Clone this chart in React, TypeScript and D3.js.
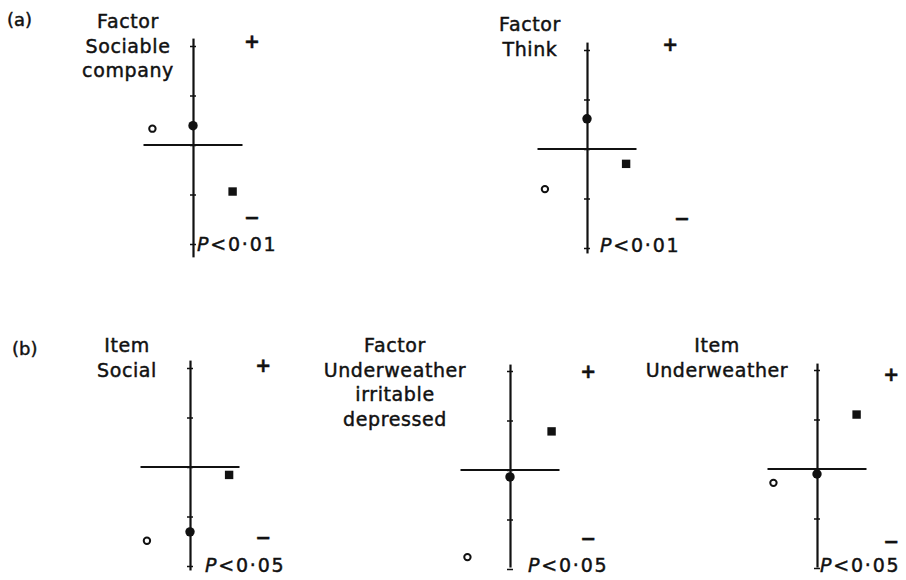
import { useEffect, useRef } from 'react';
import * as d3 from 'd3';

// values (vertical units = tick spacing)
const panelTitles = [
  ['Factor', 'Sociable', 'company'],
  ['Factor', 'Think'],
  ['Item', 'Social'],
  ['Factor', 'Underweather', 'irritable', 'depressed'],
  ['Item', 'Underweather'],
];
const pLabels = ['<0·01', '<0·01', '<0·05', '<0·05', '<0·05'];
const filledY = [0.39, 0.61, -1.31, -0.14, -0.1];
const openX = [-0.82, -0.85, -0.87, -0.86, -0.88];
const openY = [0.33, -0.81, -1.49, -1.76, -0.28];
const squareX = [0.8, 0.79, 0.79, 0.84, 0.8];
const squareY = [-0.94, -0.3, -0.16, 0.78, 1.1];
const tickValues = [-2, -1, 0, 1, 2];
const groupLabels = ['(a)', '(b)'];

// where each little panel sits on the page
const layout = [
  { ox: 193, oy: 145, yMin: -2.26, yMax: 2.16, titleX: 128, titleY: 28, plus: [1.19, 2.1], minus: [1.19, -1.45], pX: 197, pY: 251 },
  { ox: 587, oy: 149, yMin: -2.1, yMax: 2.16, titleX: 530, titleY: 31, plus: [1.68, 2.12], minus: [1.92, -1.4], pX: 600, pY: 252 },
  { ox: 190, oy: 467, yMin: -2.08, yMax: 2.16, titleX: 127, titleY: 352, plus: [1.48, 2.06], minus: [1.48, -1.42], pX: 205, pY: 572 },
  { ox: 510, oy: 470, yMin: -1.96, yMax: 2.14, titleX: 395, titleY: 352, plus: [1.58, 2.0], minus: [1.58, -1.38], pX: 528, pY: 572 },
  { ox: 817, oy: 469, yMin: -1.98, yMax: 2.14, titleX: 717, titleY: 352, plus: [1.5, 1.92], minus: [1.5, -1.46], pX: 820, pY: 572 },
];

const UNIT = 49.5;
const FONT = '"DejaVu Sans", sans-serif';
const INK = '#111';

const App = () => {
  const svgRef = useRef<SVGSVGElement>(null);

  useEffect(() => {
    const svg = d3.select(svgRef.current);
    svg.selectAll('*').remove();

    svg.append('rect').attr('width', 906).attr('height', 580).attr('fill', '#fff');

    const label = (sel: any, size = 19) => sel
      .attr('font-family', FONT).attr('font-size', size)
      .attr('fill', INK).attr('stroke', INK).attr('stroke-width', 0.45);

    // group labels
    label(svg.append('text').attr('x', 7).attr('y', 26), 18).text(groupLabels[0]);
    label(svg.append('text').attr('x', 12).attr('y', 355), 18).text(groupLabels[1]);

    layout.forEach((l, i) => {
      const x = d3.scaleLinear().domain([0, 1]).range([l.ox, l.ox + UNIT]);
      const y = d3.scaleLinear().domain([0, 1]).range([l.oy, l.oy - UNIT]);
      const g = svg.append('g');

      // vertical axis with little crossing ticks
      const yAxisScale = d3.scaleLinear().domain([l.yMin, l.yMax]).range([y(l.yMin), y(l.yMax)]);
      g.append('g')
        .attr('transform', `translate(${l.ox},0)`)
        .call(d3.axisLeft(yAxisScale).tickValues(tickValues).tickSize(3).tickSizeOuter(0).tickFormat(() => ''))
        .call(a => a.select('.domain').attr('stroke', INK).attr('stroke-width', 2.2))
        .call(a => a.selectAll('.tick line').attr('stroke', INK).attr('stroke-width', 1.5));
      g.append('g')
        .attr('transform', `translate(${l.ox},0)`)
        .call(d3.axisRight(yAxisScale).tickValues(tickValues).tickSize(3).tickSizeOuter(0).tickFormat(() => ''))
        .call(a => a.select('.domain').remove())
        .call(a => a.selectAll('.tick line').attr('stroke', INK).attr('stroke-width', 1.5));

      // horizontal zero line
      g.append('line')
        .attr('x1', x(-1)).attr('x2', x(1))
        .attr('y1', y(0)).attr('y2', y(0))
        .attr('stroke', INK).attr('stroke-width', 2);

      // markers
      g.append('circle')
        .attr('cx', x(openX[i])).attr('cy', y(openY[i])).attr('r', 3.2)
        .attr('fill', '#fff').attr('stroke', INK).attr('stroke-width', 2);
      g.append('circle')
        .attr('cx', x(0)).attr('cy', y(filledY[i])).attr('r', 4.7)
        .attr('fill', INK);
      g.append('rect')
        .attr('x', x(squareX[i]) - 4.2).attr('y', y(squareY[i]) - 4.2)
        .attr('width', 8.4).attr('height', 8.4)
        .attr('fill', INK);

      // + / − signs
      label(g.append('text').attr('x', x(l.plus[0])).attr('y', y(l.plus[1]) + 7)
        .attr('text-anchor', 'middle').attr('font-weight', 'bold')).text('+');
      label(g.append('text').attr('x', x(l.minus[0])).attr('y', y(l.minus[1]) + 7)
        .attr('text-anchor', 'middle').attr('font-weight', 'bold')).text('−');

      // P value
      const p = label(g.append('text').attr('x', l.pX).attr('y', l.pY).attr('letter-spacing', 1.8));
      p.append('tspan').attr('font-style', 'italic').text('P');
      p.append('tspan').text(pLabels[i]);

      // title
      const t = label(g.append('text').attr('text-anchor', 'middle').attr('letter-spacing', 0.6));
      panelTitles[i].forEach((line, k) => {
        t.append('tspan').attr('x', l.titleX).attr('y', l.titleY + k * 24.5).text(line);
      });
    });
  }, []);

  return (
    <svg
      ref={svgRef}
      width={906}
      height={580}
      style={{ position: 'absolute', left: 0, top: 0 }}
    />
  );
};

export default App;
